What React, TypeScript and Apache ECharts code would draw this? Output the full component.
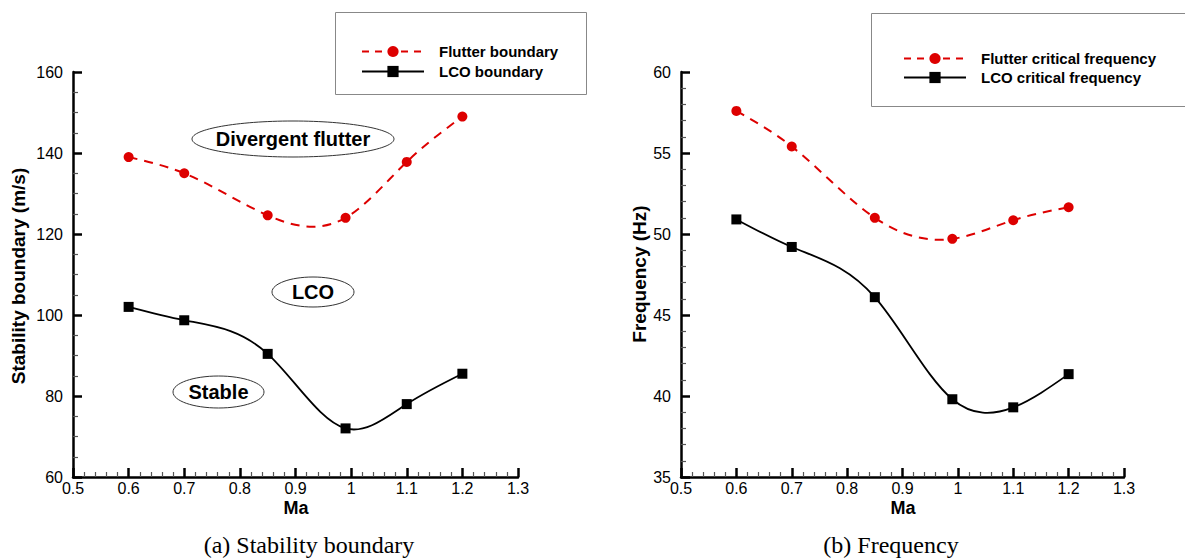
import React, { useEffect, useRef } from "react";
import * as echarts from "echarts";

const MA = [0.6, 0.7, 0.85, 0.99, 1.1, 1.2];
const FLUTTER_BOUNDARY = [139, 135, 124.6, 124, 137.8, 149];
const LCO_BOUNDARY = [102, 98.7, 90.4, 72, 78, 85.5];
const FLUTTER_FREQ = [57.6, 55.4, 51.0, 49.7, 50.85, 51.65];
const LCO_FREQ = [50.9, 49.2, 46.1, 39.8, 39.3, 41.35];

const LEFT_LEGEND = ["Flutter boundary", "LCO boundary"];
const RIGHT_LEGEND = ["Flutter critical frequency", "LCO critical frequency"];
const REGION_LABELS = ["Divergent flutter", "LCO", "Stable"];
const CAPTIONS = ["(a) Stability boundary", "(b) Frequency"];
const Y_TITLES = ["Stability boundary (m/s)", "Frequency (Hz)"];
const X_TITLE = "Ma";

const SANS = '"Liberation Sans", Arial, sans-serif';
const RED = "#dd0000";
const DASH = [9, 7];

// natural cubic spline slopes at the knots (used only to shape the curve drawn between data points)
function splineSlopes(xs: number[], ys: number[]) {
  const n = xs.length;
  const h: number[] = [];
  for (let i = 0; i < n - 1; i++) h.push(xs[i + 1] - xs[i]);
  const a: number[] = new Array(n).fill(0);
  const b: number[] = new Array(n).fill(1);
  const c: number[] = new Array(n).fill(0);
  const d: number[] = new Array(n).fill(0);
  for (let i = 1; i < n - 1; i++) {
    a[i] = h[i - 1] / 6;
    b[i] = (h[i - 1] + h[i]) / 3;
    c[i] = h[i] / 6;
    d[i] = (ys[i + 1] - ys[i]) / h[i] - (ys[i] - ys[i - 1]) / h[i - 1];
  }
  const cp = new Array(n).fill(0);
  const dp = new Array(n).fill(0);
  cp[0] = c[0] / b[0];
  dp[0] = d[0] / b[0];
  for (let i = 1; i < n; i++) {
    const m = b[i] - a[i] * cp[i - 1];
    cp[i] = c[i] / m;
    dp[i] = (d[i] - a[i] * dp[i - 1]) / m;
  }
  const M = new Array(n).fill(0);
  M[n - 1] = dp[n - 1];
  for (let i = n - 2; i >= 0; i--) M[i] = dp[i] - cp[i] * M[i + 1];
  const s: number[] = [];
  for (let i = 0; i < n - 1; i++) {
    s.push((ys[i + 1] - ys[i]) / h[i] - (h[i] * (2 * M[i] + M[i + 1])) / 6);
  }
  const k = n - 2;
  s.push((ys[k + 1] - ys[k]) / h[k] + (h[k] * (M[k] + 2 * M[k + 1])) / 6);
  return s;
}

function pairs(xs: number[], ys: number[]) {
  return xs.map((x, i) => [x, ys[i]]);
}

function axisLine() {
  return { show: true, onZero: false, lineStyle: { color: "#000000", width: 2.5 } };
}
function axisTick() {
  return { show: true, inside: true, length: 9, lineStyle: { color: "#000000", width: 2.5 } };
}
function minorTick(splitNumber: number) {
  return { show: true, splitNumber, length: 5, lineStyle: { color: "#555", width: 1.2 } };
}

function xAxisCfg(gridIndex: number) {
  return {
    type: "value",
    gridIndex,
    min: 0.5,
    max: 1.3,
    interval: 0.1,
    axisLine: axisLine(),
    axisTick: axisTick(),
    minorTick: minorTick(5),
    splitLine: { show: false },
    axisLabel: { show: true, color: "#000", fontSize: 16, fontFamily: SANS, margin: 3 },
  };
}

function yAxisCfg(gridIndex: number, min: number, max: number, interval: number, minorSplit: number) {
  return {
    type: "value",
    gridIndex,
    min,
    max,
    interval,
    axisLine: axisLine(),
    axisTick: axisTick(),
    minorTick: minorTick(minorSplit),
    splitLine: { show: false },
    axisLabel: { show: true, color: "#000", fontSize: 16, fontFamily: SANS, margin: 10 },
  };
}

function curveSeries(idx: number, ys: number[], color: string, width: number, dash: number[] | null) {
  const slopes = splineSlopes(MA, ys);
  return {
    type: "custom",
    xAxisIndex: idx,
    yAxisIndex: idx,
    silent: true,
    z: 2,
    data: pairs(MA, ys),
    renderItem: (params: any, api: any) => {
      if (params.dataIndex !== 0) return null;
      const p0 = api.coord([MA[0], ys[0]]);
      let d = `M ${p0[0]} ${p0[1]}`;
      for (let i = 0; i < MA.length - 1; i++) {
        const h = MA[i + 1] - MA[i];
        const c1 = api.coord([MA[i] + h / 3, ys[i] + (slopes[i] * h) / 3]);
        const c2 = api.coord([MA[i + 1] - h / 3, ys[i + 1] - (slopes[i + 1] * h) / 3]);
        const p = api.coord([MA[i + 1], ys[i + 1]]);
        d += ` C ${c1[0]} ${c1[1]} ${c2[0]} ${c2[1]} ${p[0]} ${p[1]}`;
      }
      return {
        type: "path",
        shape: { pathData: d },
        style: { fill: null, stroke: color, lineWidth: width, lineDash: dash || undefined },
      };
    },
  };
}

function markerSeries(name: string, idx: number, ys: number[], symbol: string, color: string) {
  return {
    type: "line",
    name,
    xAxisIndex: idx,
    yAxisIndex: idx,
    data: pairs(MA, ys),
    symbol,
    symbolSize: 10,
    z: 3,
    itemStyle: { color },
    lineStyle: { opacity: 0, width: 0 },
  };
}

function legendItems(names: string[]) {
  return [
    {
      name: names[0],
      itemStyle: { color: RED },
      lineStyle: { color: RED, width: 2, type: [7, 6], opacity: 1 },
    },
    {
      name: names[1],
      itemStyle: { color: "#000" },
      lineStyle: { color: "#000", width: 2, type: "solid", opacity: 1 },
    },
  ];
}

function txt(x: number, y: number, text: string, font: string, rotation = 0) {
  return {
    type: "text",
    x,
    y,
    rotation,
    z: 100,
    style: {
      text,
      font,
      fill: "#000",
      align: "center",
      verticalAlign: "middle",
      textAlign: "center",
      textVerticalAlign: "middle",
    },
  };
}

function ellipse(cx: number, cy: number, rx: number, ry: number) {
  return {
    type: "ellipse",
    z: 90,
    shape: { cx, cy, rx, ry },
    style: { fill: "#fff", stroke: "#333", lineWidth: 1 },
  };
}

export default function App() {
  const ref = useRef<HTMLDivElement>(null);
  useEffect(() => {
    if (!ref.current) return;
    const chart = echarts.init(ref.current, undefined, { renderer: "svg" });
    const legendText = { fontSize: 15, fontWeight: "bold", fontFamily: SANS, color: "#000" };
    const option: any = {
      animation: false,
      backgroundColor: "#fff",
      grid: [
        { left: 73, top: 72, width: 445, height: 405 },
        { left: 681, top: 72, width: 443, height: 405 },
      ],
      xAxis: [xAxisCfg(0), xAxisCfg(1)],
      yAxis: [yAxisCfg(0, 60, 160, 20, 4), yAxisCfg(1, 35, 60, 5, 5)],
      legend: [
        {
          data: legendItems(LEFT_LEGEND),
          orient: "vertical",
          left: 356,
          top: 39,
          itemWidth: 62,
          itemHeight: 14,
          itemGap: 5,
          textStyle: { ...legendText, padding: [0, 0, 0, 10] },
        },
        {
          data: legendItems(RIGHT_LEGEND),
          orient: "vertical",
          left: 898,
          top: 46,
          itemWidth: 62,
          itemHeight: 14,
          itemGap: 4,
          textStyle: { ...legendText, padding: [0, 0, 0, 10] },
        },
      ],
      series: [
        markerSeries(LEFT_LEGEND[0], 0, FLUTTER_BOUNDARY, "circle", RED),
        markerSeries(LEFT_LEGEND[1], 0, LCO_BOUNDARY, "rect", "#000"),
        markerSeries(RIGHT_LEGEND[0], 1, FLUTTER_FREQ, "circle", RED),
        markerSeries(RIGHT_LEGEND[1], 1, LCO_FREQ, "rect", "#000"),
        curveSeries(0, FLUTTER_BOUNDARY, RED, 2, DASH),
        curveSeries(0, LCO_BOUNDARY, "#000", 1.8, null),
        curveSeries(1, FLUTTER_FREQ, RED, 2, DASH),
        curveSeries(1, LCO_FREQ, "#000", 1.8, null),
      ],
      graphic: [
        {
          type: "rect",
          z: -1,
          shape: { x: 335.5, y: 12.5, width: 251, height: 82 },
          style: { fill: "#fff", stroke: "#888", lineWidth: 1 },
        },
        {
          type: "rect",
          z: -1,
          shape: { x: 871.5, y: 13.5, width: 330, height: 93 },
          style: { fill: "#fff", stroke: "#888", lineWidth: 1 },
        },
        ellipse(293, 139, 101, 18),
        ellipse(313, 292, 41, 15),
        ellipse(218.5, 392, 45.5, 16),
        txt(293, 139, REGION_LABELS[0], `bold 20px ${SANS}`),
        txt(313, 292, REGION_LABELS[1], `bold 20px ${SANS}`),
        txt(218.5, 392, REGION_LABELS[2], `bold 20px ${SANS}`),
        txt(18, 276, Y_TITLES[0], `bold 19px ${SANS}`, Math.PI / 2),
        txt(639, 274, Y_TITLES[1], `bold 19px ${SANS}`, Math.PI / 2),
        txt(296, 508, X_TITLE, `bold 18px ${SANS}`),
        txt(903, 508, X_TITLE, `bold 18px ${SANS}`),
        txt(309, 545, CAPTIONS[0], `24px "Liberation Serif", "Times New Roman", serif`),
        txt(891, 545, CAPTIONS[1], `24px "Liberation Serif", "Times New Roman", serif`),
      ],
    };
    chart.setOption(option);
    return () => chart.dispose();
  }, []);
  return (
    <div
      ref={ref}
      style={{ position: "absolute", left: 0, top: 0, width: 1185, height: 558, background: "#fff" }}
    />
  );
}
